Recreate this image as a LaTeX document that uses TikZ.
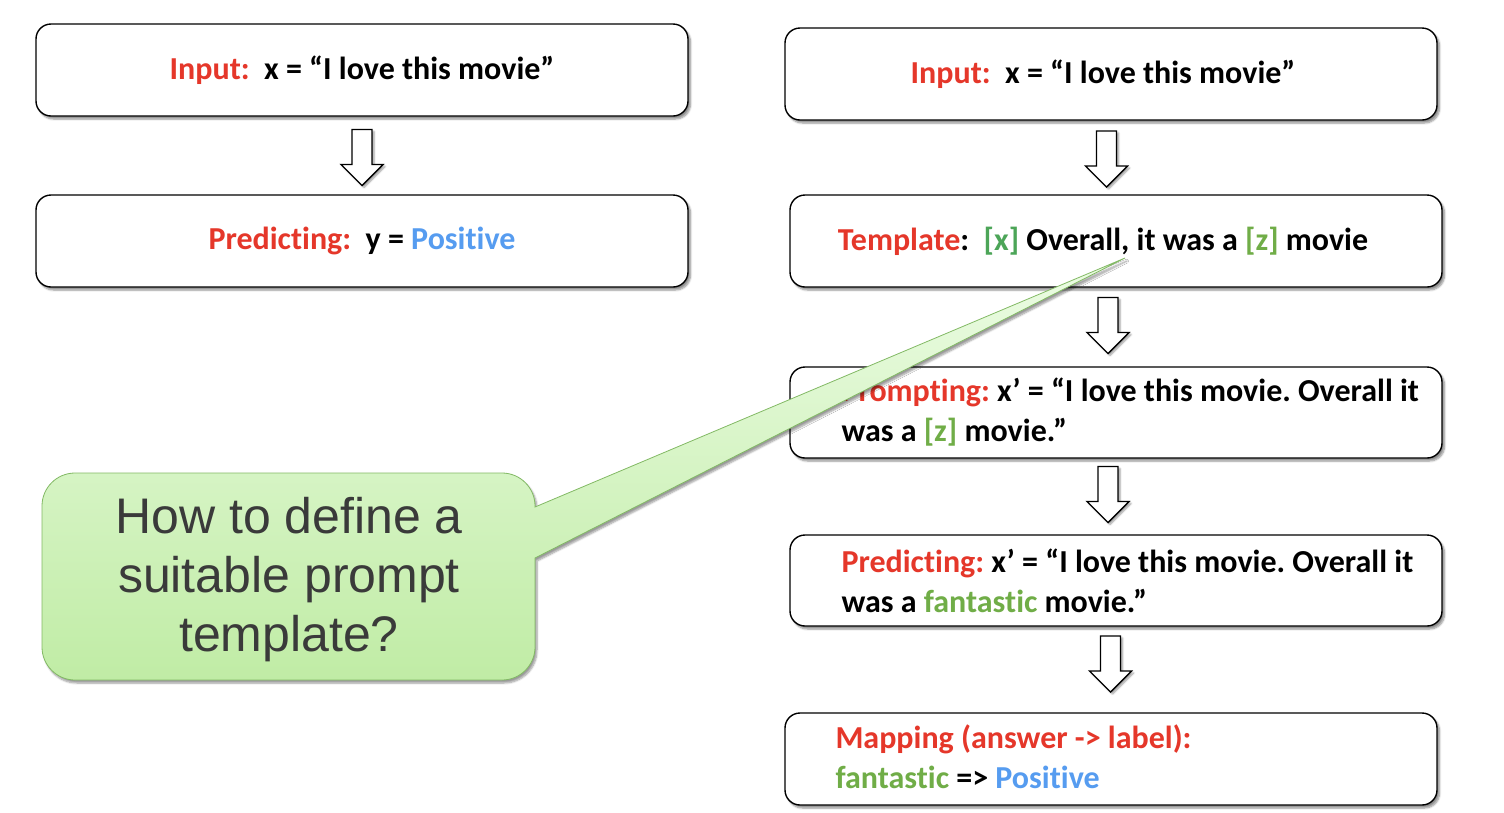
\documentclass[tikz,border=0pt]{standalone}
\usepackage{fontspec}
\setmainfont{Carlito}[Ligatures={NoCommon}]
\newfontfamily\callfont{Liberation Sans}
\usetikzlibrary{calc,shadows,shadows.blur}
\frenchspacing
\definecolor{lblred}{RGB}{229,55,42}
\definecolor{lblblue}{RGB}{86,156,240}
\definecolor{grx}{RGB}{76,165,88}
\definecolor{grz}{RGB}{112,173,71}
\definecolor{calltop}{RGB}{236,252,228}
\definecolor{callbot}{RGB}{192,236,165}
\definecolor{calledge}{RGB}{130,185,100}
\definecolor{calltxt}{RGB}{58,58,58}
\tikzset{
  flowbox/.style={draw=black, line width=1.4pt, rounded corners=15pt, fill=white,
    minimum width=652pt, minimum height=92pt, inner sep=0pt,
    font=\bfseries\fontsize{32}{40}\selectfont,
    blur shadow={shadow xshift=2.5pt, shadow yshift=-3pt, shadow blur steps=6, shadow opacity=45}},
  boxtext/.style={anchor=west, align=left, inner sep=0pt, font=\bfseries\fontsize{32}{40}\selectfont},
  arrowshape/.style={draw=black, line width=1.4pt, fill=white,
    blur shadow={shadow xshift=2pt, shadow yshift=-2pt, shadow blur steps=4, shadow opacity=40}},
  pics/downarrow/.style={code={
    \path[arrowshape] (-10,-28) -- (-10,7) -- (-21,7) -- (0,28) -- (21,7) -- (10,7) -- (10,-28) -- cycle;}},
  callout/.style={top color=calltop, bottom color=callbot, draw=calledge, line width=0.8pt,
    blur shadow={shadow xshift=2pt, shadow yshift=-3pt, shadow blur steps=6, shadow opacity=40}},
  calltext/.style={align=center, text=calltxt, inner sep=0pt,
    font=\callfont\fontsize{50}{59}\selectfont}
}
\newcommand{\rd}[1]{\textcolor{lblred}{#1}}
\newcommand{\bl}[1]{\textcolor{lblblue}{#1}}
\newcommand{\gx}[1]{\textcolor{grx}{#1}}
\newcommand{\gz}[1]{\textcolor{grz}{#1}}
\begin{document}
\begin{tikzpicture}[x=1pt, y=-1pt]
\useasboundingbox (0,0) rectangle (1504,812);

% left column
\node[flowbox] (lin) at (362,70) {\rd{Input:}\ \ x = “I love this movie”};
\node[flowbox] (lpred) at (362,241) {\rd{Predicting:}\ \ y = \bl{Positive}};

% right column
\node[flowbox] (rin) at (1111,74) {\hspace*{-16pt}\rd{Input:}\ \ x = “I love this movie”};
\node[flowbox] (tmpl) at (1116,241) {\hspace*{-26pt}\rd{Template}:\ \ \gx{[x]} Overall, it was a \gz{[z]} movie};
\node[flowbox, minimum height=91pt] (prompt) at (1116,412.5) {};
\node[boxtext] (promptT) at ([xshift=52pt]prompt.west) {\rd{Prompting:} x’ = “I love this movie. Overall it\\was a \gz{[z]} movie.”};
\node[flowbox, minimum height=91pt] (pred) at (1116,580.5) {};
\node[boxtext] (predT) at ([xshift=52pt]pred.west) {\rd{Predicting:} x’ = “I love this movie. Overall it\\was a \gz{fantastic} movie.”};
\node[flowbox] (map) at (1111,759) {};
\node[boxtext] (mapT) at ([xshift=51pt,yshift=2pt]map.west) {\rd{Mapping (answer -> label):}\\\gz{fantastic} => \bl{Positive}};

% block arrows
\pic at ($(lin.south)!0.5!(lpred.north)+(0,2)$) {downarrow};
\pic at ($(rin.south)!0.5!(tmpl.north)+(-7,1.5)$) {downarrow};
\pic at ($(tmpl.south)!0.5!(prompt.north)+(-8,-1.5)$) {downarrow};
\pic at ($(prompt.south)!0.5!(pred.north)+(-8,-2)$) {downarrow};
\pic at ($(pred.south)!0.5!(map.north)+(-3,-5.5)$) {downarrow};

% callout
\coordinate (tip) at (1125,258);
\path[callout] (42,560) [rounded corners=33pt] -- (42,473) -- (535,473) [sharp corners] -- (535,507) -- (tip) -- (535,558) [rounded corners=33pt] -- (535,680) -- (42,680) -- cycle;
\node[calltext] (question) at (289,580) {How to define a\\suitable prompt\\template?};
\end{tikzpicture}
\end{document}
